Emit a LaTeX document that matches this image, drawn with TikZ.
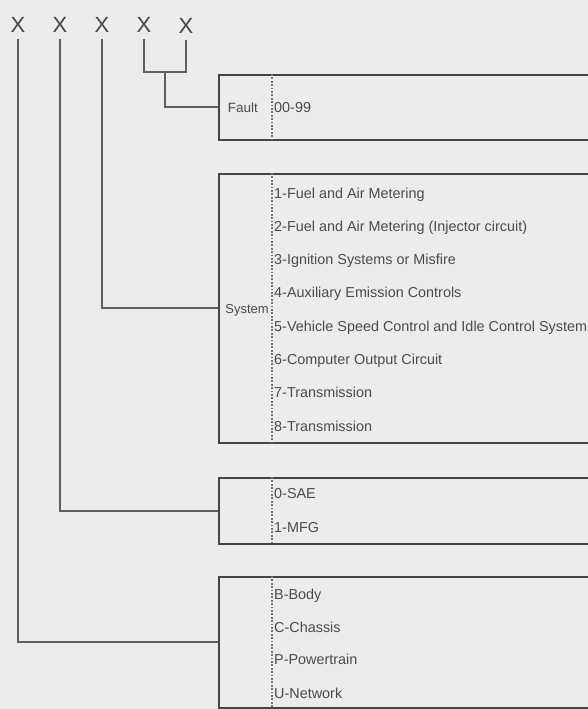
\documentclass[tikz,border=0pt]{standalone}
\usepackage{fontspec}
\setmainfont{Liberation Sans}
\usetikzlibrary{calc}
\definecolor{bgc}{RGB}{236,236,236}
\definecolor{linec}{RGB}{95,95,95}
\definecolor{boxc}{RGB}{70,70,70}
\definecolor{txtc}{RGB}{75,75,75}
\definecolor{dotc}{RGB}{115,115,115}
\tikzset{
  letter/.style={font=\fontsize{22}{24}\selectfont, text=boxc, inner xsep=0pt, inner ysep=6pt},
  conn/.style={draw=linec, line width=2pt},
  codebox/.style={draw=boxc, line width=1.6pt, rectangle, anchor=north west, minimum width=420pt, inner sep=0pt},
  divider/.style={draw=dotc, line width=2.4pt, dash pattern=on 1.8pt off 1.6pt},
  item/.style={font=\fontsize{14.4}{16}\selectfont, text=txtc, anchor=base west, inner sep=0pt},
  grouplabel/.style={font=\fontsize{13.5}{16}\selectfont, text=txtc, anchor=base east, inner sep=0pt}
}
\begin{document}
\begin{tikzpicture}[x=1pt,y=-1pt]
\useasboundingbox (0,0) rectangle (588,709);
\fill[bgc] (0,0) rectangle (588,709);
\clip (0,0) rectangle (588,709);

% code letters
\node[letter] (x1) at (18,25) {X};
\node[letter] (x2) at (60,25) {X};
\node[letter] (x3) at (102,25) {X};
\node[letter] (x4) at (144,25) {X};
\node[letter] (x5) at (186,26) {X};

% boxes
\node[codebox, minimum height=65pt] (faultbox) at (218,74) {};
\node[codebox, minimum height=269pt] (sysbox) at (218,173) {};
\node[codebox, minimum height=66pt] (orgbox) at (218,477) {};
\node[codebox, minimum height=131pt] (areabox) at (218,576) {};

% dotted dividers
\foreach \b in {faultbox,sysbox,orgbox,areabox}{
  \draw[divider] ([xshift=54pt]\b.north west) -- ([xshift=54pt]\b.south west);
}

% connectors
\coordinate (join) at (165,72);
\draw[conn] (x4.south) |- (join) -| (x5.south);
\draw[conn] (join) |- (faultbox.west);
\draw[conn] (x3.south) |- (sysbox.west);
\draw[conn] (x2.south) |- (orgbox.west);
\draw[conn] (x1.south) |- (areabox.west);

% fault box
\node[grouplabel] (faultlbl) at (258,112) {Fault};
\node[item] (f1) at (274,112) {00-99};

% system box
\node[grouplabel, font=\fontsize{13}{16}\selectfont] (syslbl) at (269,313) {System};
\node[item] (s1) at (274,198) {1-Fuel and Air Metering};
\node[item] (s2) at (274,231.3) {2-Fuel and Air Metering (Injector circuit)};
\node[item] (s3) at (274,264.6) {3-Ignition Systems or Misfire};
\node[item] (s4) at (274,297.9) {4-Auxiliary Emission Controls};
\node[item] (s5) at (274,331.2) {5-Vehicle Speed Control and Idle Control System};
\node[item] (s6) at (274,364.5) {6-Computer Output Circuit};
\node[item] (s7) at (274,397.8) {7-Transmission};
\node[item] (s8) at (274,431.1) {8-Transmission};

% SAE / MFG box
\node[item] (o1) at (274,498) {0-SAE};
\node[item] (o2) at (274,532) {1-MFG};

% area box
\node[item] (a1) at (274,599) {B-Body};
\node[item] (a2) at (274,632) {C-Chassis};
\node[item] (a3) at (274,664) {P-Powertrain};
\node[item] (a4) at (274,698) {U-Network};
\end{tikzpicture}
\end{document}
